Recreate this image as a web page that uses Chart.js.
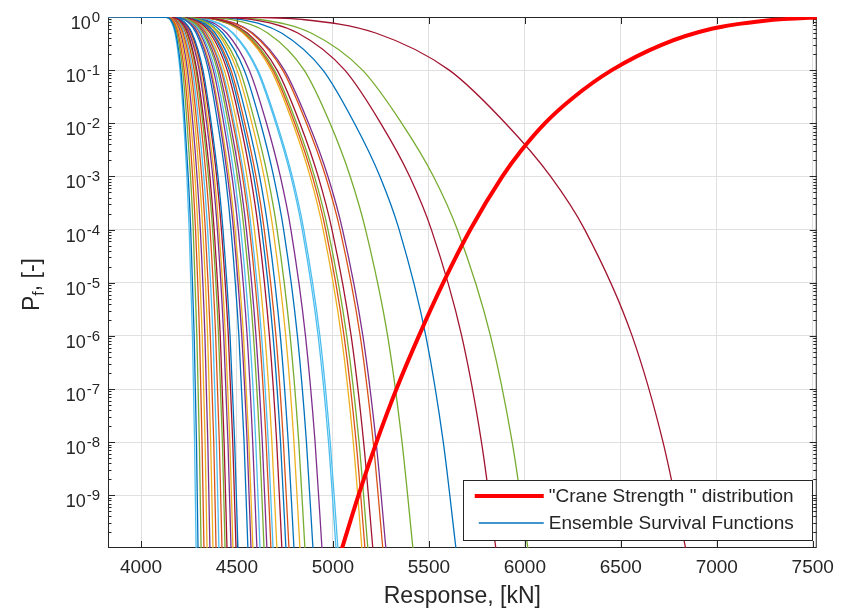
<!DOCTYPE html>
<html>
<head>
<meta charset="utf-8">
<script src="https://cdn.jsdelivr.net/npm/chart.js@4.4.1/dist/chart.umd.min.js"></script>
<style>
html, body { margin: 0; padding: 0; background: #fff; }
</style>
</head>
<body>
<canvas id="myChart" width="842" height="613"></canvas>
<script>
// axis limits and ticks
const xMin = 3828, xMax = 7521;
const yMin = 1.02e-10, yMax = 1;
const xTicks = [4000, 4500, 5000, 5500, 6000, 6500, 7000, 7500];
const yDecades = [1, 1e-1, 1e-2, 1e-3, 1e-4, 1e-5, 1e-6, 1e-7, 1e-8, 1e-9];
const yTickExp = ['0', '-1', '-2', '-3', '-4', '-5', '-6', '-7', '-8', '-9'];

// crane strength cdf
const craneLabel = '"Crane Strength " distribution';
const craneX = [5047, 5133, 5227, 5331, 5448, 5575, 5716, 5883, 5979, 6104, 6250, 6453, 6713, 6974, 7250, 7500, 7600];
const craneP = [1e-10, 1e-9, 1e-8, 1e-7, 1e-6, 1e-5, 1e-4, 1e-3, 3e-3, 1e-2, 3e-2, 1e-1, 0.3, 0.6, 0.85, 0.97, 0.99];

// ensemble survival functions: response [kN] where each curve crosses these Pf levels
const ensembleLabel = 'Ensemble Survival Functions';
const survivalLevels = [0.99, 0.9, 0.5, 1e-1, 1e-2, 1e-3, 1e-4, 1e-6, 1e-8, 1e-10];
const ensembleX = [
    [4130, 4153, 4181, 4208, 4229, 4246, 4259, 4277, 4289, 4297],
    [4134, 4162, 4193, 4225, 4250, 4269, 4284, 4305, 4318, 4328],
    [4137, 4166, 4200, 4234, 4260, 4281, 4297, 4319, 4334, 4344],
    [4139, 4170, 4206, 4242, 4270, 4292, 4309, 4333, 4348, 4359],
    [4132, 4158, 4187, 4217, 4240, 4258, 4272, 4291, 4304, 4313],
    [4128, 4150, 4177, 4203, 4223, 4239, 4251, 4268, 4279, 4287],
    [4152, 4194, 4243, 4291, 4329, 4359, 4381, 4413, 4433, 4448],
    [4161, 4209, 4266, 4323, 4366, 4401, 4427, 4464, 4488, 4505],
    [4144, 4179, 4219, 4260, 4291, 4316, 4335, 4361, 4379, 4391],
    [4141, 4174, 4213, 4251, 4281, 4304, 4322, 4347, 4363, 4375],
    [4155, 4200, 4251, 4303, 4342, 4374, 4398, 4431, 4453, 4469],
    [4151, 4191, 4239, 4286, 4322, 4351, 4373, 4404, 4424, 4438],
    [4146, 4183, 4225, 4268, 4301, 4327, 4347, 4375, 4393, 4406],
    [4159, 4207, 4262, 4317, 4360, 4394, 4419, 4455, 4478, 4495],
    [4169, 4223, 4287, 4351, 4400, 4440, 4469, 4510, 4537, 4557],
    [4148, 4187, 4232, 4277, 4312, 4339, 4360, 4389, 4408, 4422],
    [4157, 4202, 4255, 4308, 4349, 4382, 4406, 4440, 4463, 4479],
    [4171, 4228, 4294, 4360, 4411, 4451, 4482, 4525, 4553, 4573],
    [4181, 4246, 4322, 4398, 4455, 4502, 4537, 4586, 4618, 4641],
    [4178, 4240, 4313, 4386, 4442, 4486, 4520, 4567, 4598, 4620],
    [4195, 4271, 4360, 4449, 4517, 4571, 4612, 4669, 4707, 4734],
    [4198, 4277, 4369, 4460, 4530, 4587, 4629, 4688, 4727, 4755],
    [4187, 4256, 4337, 4417, 4479, 4529, 4566, 4618, 4652, 4677],
    [4172, 4230, 4298, 4366, 4417, 4459, 4490, 4534, 4562, 4583],
    [4176, 4236, 4307, 4377, 4431, 4474, 4507, 4553, 4582, 4604],
    [4213, 4304, 4409, 4515, 4595, 4660, 4709, 4777, 4822, 4854],
    [4188, 4259, 4341, 4423, 4486, 4537, 4575, 4628, 4663, 4688],
    [4266, 4399, 4554, 4709, 4828, 4923, 4995, 5095, 5160, 5208],
    [4205, 4288, 4386, 4483, 4558, 4618, 4663, 4726, 4767, 4797],
    [4201, 4281, 4375, 4469, 4541, 4599, 4642, 4703, 4742, 4771],
    [4191, 4264, 4349, 4434, 4500, 4552, 4591, 4646, 4682, 4708],
    [4183, 4250, 4328, 4406, 4465, 4513, 4549, 4599, 4632, 4656],
    [4262, 4392, 4544, 4695, 4811, 4904, 4974, 5072, 5136, 5182],
    [4237, 4347, 4476, 4604, 4702, 4781, 4840, 4923, 4977, 5016],
    [4362, 4572, 4817, 5062, 5249, 5400, 5513, 5671, 5774, 5849],
    [4219, 4315, 4426, 4538, 4623, 4691, 4743, 4815, 4862, 4896],
    [4260, 4388, 4538, 4687, 4801, 4893, 4962, 5058, 5121, 5167],
    [4209, 4297, 4399, 4500, 4578, 4641, 4688, 4754, 4797, 4828],
    [4227, 4328, 4446, 4564, 4654, 4726, 4781, 4857, 4907, 4943],
    [4300, 4465, 4660, 4850, 4985, 5090, 5170, 5285, 5360, 5417],
    [4239, 4350, 4480, 4609, 4708, 4788, 4848, 4932, 4986, 5026],
    [4511, 4839, 5223, 5606, 5899, 6134, 6312, 6559, 6720, 6838],
    [4331, 4516, 4732, 4948, 5112, 5245, 5345, 5484, 5575, 5641],
    [4274, 4413, 4576, 4738, 4862, 4962, 5037, 5142, 5210, 5260],
    [4258, 4384, 4531, 4678, 4791, 4881, 4949, 5044, 5106, 5151],
    [4276, 4418, 4582, 4747, 4873, 4974, 5050, 5156, 5225, 5276],
    [4387, 4617, 4886, 5154, 5359, 5524, 5648, 5821, 5934, 6016]
];

const FONT = "'Liberation Sans', Arial, Helvetica, sans-serif";
const AXCOL = '#262626';
// matlab default line colour order
const palette = ['#0072BD', '#D95319', '#EDB120', '#7E2F8E', '#77AC30', '#4DBEEE', '#A2142F'];

let datasets = [{
    label: craneLabel,
    data: craneX.map((x, i) => ({ x: x, y: craneP[i] })),
    borderColor: '#FF0000',
    borderWidth: 4,
    pointRadius: 0,
    cubicInterpolationMode: 'monotone'
}];
for (let i = 0; i < ensembleX.length; i++) {
    let pts = [{ x: xMin, y: 1 }];
    for (let j = 0; j < survivalLevels.length; j++) {
        pts.push({ x: ensembleX[i][j], y: survivalLevels[j] });
    }
    datasets.push({
        label: ensembleLabel,
        data: pts,
        borderColor: palette[i % palette.length],
        borderWidth: 1.3,
        pointRadius: 0,
        cubicInterpolationMode: 'monotone'
    });
}

// box, inward ticks, y tick labels, y title and the legend box
const matlabLook = {
    id: 'matlabLook',
    beforeDatasetsDraw(chart) {
        const { ctx, chartArea: a, scales: { x, y } } = chart;
        ctx.save();
        ctx.strokeStyle = AXCOL;
        ctx.lineWidth = 1;
        ctx.beginPath();
        xTicks.forEach(v => {
            let px = Math.round(x.getPixelForValue(v)) + 0.5;
            ctx.moveTo(px, a.bottom); ctx.lineTo(px, a.bottom - 7);
            ctx.moveTo(px, a.top); ctx.lineTo(px, a.top + 7);
        });
        for (let e = -10; e <= 0; e++) {
            for (let m = 1; m <= 9; m++) {
                let v = m * Math.pow(10, e);
                if (v < yMin || v > yMax) continue;
                let len = m === 1 ? 7 : 3.5;
                let py = Math.round(y.getPixelForValue(v)) + 0.5;
                ctx.moveTo(a.left, py); ctx.lineTo(a.left + len, py);
                ctx.moveTo(a.right, py); ctx.lineTo(a.right - len, py);
            }
        }
        ctx.stroke();
        ctx.strokeRect(a.left + 0.5, a.top + 0.5, a.right - a.left - 1, a.bottom - a.top - 1);
        ctx.restore();
    },
    afterDraw(chart) {
        const { ctx, chartArea: a, scales: { y } } = chart;
        ctx.save();
        ctx.fillStyle = AXCOL;
        ctx.textAlign = 'left';
        ctx.textBaseline = 'alphabetic';
        // 10^n labels
        yDecades.forEach((v, i) => {
            let py = y.getPixelForValue(v);
            ctx.font = '15px ' + FONT;
            let we = ctx.measureText(yTickExp[i]).width;
            ctx.fillText(yTickExp[i], a.left - 8 - we, py + 5);
            ctx.font = '18px ' + FONT;
            let wb = ctx.measureText('10').width;
            ctx.fillText('10', a.left - 9 - we - wb, py + 12);
        });
        // y title P_f, [-]
        ctx.save();
        ctx.translate(39, (a.top + a.bottom) / 2 + 2);
        ctx.rotate(-Math.PI / 2);
        const big = '23px ' + FONT, small = '16px ' + FONT;
        ctx.font = big;
        let wP = ctx.measureText('P').width, wR = ctx.measureText(', [-]').width;
        ctx.font = small;
        let wf = ctx.measureText('f').width;
        let x0 = -(wP + wf + wR) / 2;
        ctx.font = big; ctx.fillText('P', x0, 0);
        ctx.font = small; ctx.fillText('f', x0 + wP, 5);
        ctx.font = big; ctx.fillText(', [-]', x0 + wP + wf, 0);
        ctx.restore();
        // legend
        let bw = 349, bh = 60;
        let bx = a.right - 5 - bw, by = a.bottom - 8 - bh;
        ctx.fillStyle = '#ffffff';
        ctx.fillRect(bx, by, bw, bh);
        ctx.strokeStyle = AXCOL;
        ctx.lineWidth = 1;
        ctx.strokeRect(Math.round(bx) + 0.5, Math.round(by) + 0.5, bw, bh);
        const ds = chart.data.datasets;
        let rows = [by + 16, by + 43];
        [0, 1].forEach((k, r) => {
            ctx.strokeStyle = ds[k].borderColor;
            ctx.lineWidth = k === 0 ? 4 : 1.5;
            ctx.beginPath();
            ctx.moveTo(bx + (k === 0 ? 12 : 16), rows[r]);
            ctx.lineTo(bx + 81, rows[r]);
            ctx.stroke();
            ctx.fillStyle = AXCOL;
            ctx.font = '19px ' + FONT;
            ctx.textBaseline = 'middle';
            ctx.fillText(ds[k].label, bx + 86, rows[r] + 1);
        });
        ctx.restore();
    }
};

var ctx = document.getElementById('myChart');
var chart = new Chart(ctx, {
    type: 'line',
    data: { datasets: datasets },
    plugins: [matlabLook],
    options: {
        responsive: false,
        animation: false,
        events: [],
        layout: { padding: { top: 17, right: 25, left: 0, bottom: 0 } },
        plugins: {
            legend: { display: false },
            tooltip: { enabled: false }
        },
        scales: {
            x: {
                type: 'linear',
                min: xMin,
                max: xMax,
                afterBuildTicks: s => { s.ticks = xTicks.map(v => ({ value: v })); },
                afterFit: s => { s.height = 65; },
                ticks: {
                    font: { family: FONT, size: 19 },
                    color: AXCOL,
                    padding: 8,
                    maxRotation: 0,
                    autoSkip: false,
                    callback: v => String(v)
                },
                grid: { color: '#e0e0e0', drawTicks: false },
                border: { display: false },
                title: {
                    display: true,
                    text: 'Response, [kN]',
                    font: { family: FONT, size: 23 },
                    color: AXCOL,
                    padding: { top: 0, bottom: 3 }
                }
            },
            y: {
                type: 'logarithmic',
                min: yMin,
                max: yMax,
                afterBuildTicks: s => { s.ticks = yDecades.map(v => ({ value: v })); },
                afterFit: s => { s.width = 108; },
                ticks: { display: false },
                grid: { color: '#e0e0e0', drawTicks: false },
                border: { display: false }
            }
        }
    }
});
</script>
</body>
</html>
